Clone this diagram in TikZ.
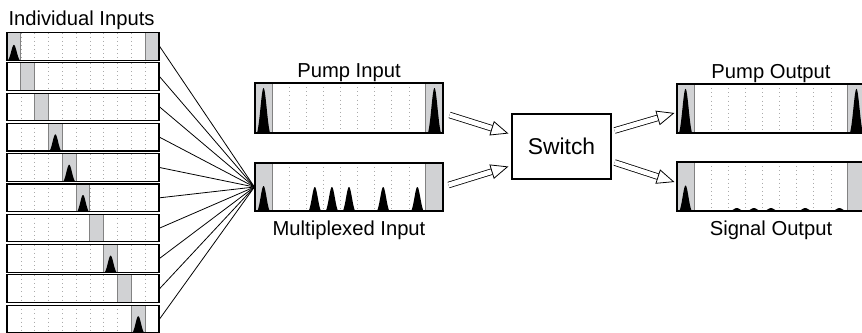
\documentclass[tikz,border=0pt]{standalone}
\usepackage{fontspec}
\setmainfont{Liberation Sans}
\usetikzlibrary{arrows.meta,positioning,calc}
\definecolor{SlotGray}{RGB}{209,210,212}
\definecolor{SlotEdge}{RGB}{130,130,130}
\definecolor{GridGray}{RGB}{170,170,170}

\def\px{0.02cm}
% one time frame: name, left, top, width, height, gray slots, pulses (slot/height/halfwidth)
\newcommand{\pulseframe}[7]{%
  \begin{scope}[shift={(#2,#3)}]
    \fill[white] (0,0) rectangle (#4,#5);
    \foreach \k in {1,...,10}
      \draw[gridline] ({\k*#4/11},0) -- ({\k*#4/11},#5);
    \foreach \s in {#6}
      \draw[slot] ({\s*#4/11},0) rectangle ({(\s+1)*#4/11},#5);
    \foreach \s/\a/\b in {#7}
      \fill[pulse] plot[variable=\t, domain=-1:1, samples=41]
        ({(\s+0.5)*#4/11+\b*\t*#4/11},
         {#5*(1-\a*(exp(-2.2*\t*\t)-exp(-2.2))/(1-exp(-2.2)))}) -- cycle;
    \node[framebox, minimum width=#4*\px, minimum height=#5*\px] (#1) at (#4/2,#5/2) {};
  \end{scope}}

\begin{document}
\begin{tikzpicture}[
    x=\px, y=-\px,
    framebox/.style={draw, line width=0.65pt, inner sep=0pt},
    slot/.style={fill=SlotGray, draw=SlotEdge, line width=0.5pt},
    gridline/.style={GridGray, dotted, line width=0.35pt},
    pulse/.style={fill=black},
    fan/.style={line width=0.45pt},
    hollow/.style={double distance=2.8pt, line width=0.45pt,
                   -{Triangle[open, length=10pt, width=8.5pt, fill=white]}},
    lbl/.style={font=\fontsize{11.5}{13}\selectfont, inner sep=1pt},
    switchbox/.style={draw, line width=0.7pt, minimum width=1.98cm, minimum height=1.3cm,
                      font=\fontsize{13}{15}\selectfont}
]
    \useasboundingbox (0,0) rectangle (862,332);

    % individual inputs
    \pulseframe{r0}{7}{32.5}{152}{27.6}{0,10}{0/0.55/0.42}
    \pulseframe{r1}{7}{62.8}{152}{27.6}{1}{0/0/0}
    \pulseframe{r2}{7}{93.1}{152}{27.6}{2}{0/0/0}
    \pulseframe{r3}{7}{123.4}{152}{27.6}{3}{3/0.6/0.42}
    \pulseframe{r4}{7}{153.7}{152}{27.6}{4}{4/0.6/0.42}
    \pulseframe{r5}{7}{184}{152}{27.6}{5}{5/0.6/0.42}
    \pulseframe{r6}{7}{214.3}{152}{27.6}{6}{0/0/0}
    \pulseframe{r7}{7}{244.6}{152}{27.6}{7}{7/0.6/0.42}
    \pulseframe{r8}{7}{274.9}{152}{27.6}{8}{0/0/0}
    \pulseframe{r9}{7}{305.2}{152}{27.6}{9}{9/0.6/0.42}
    \node[lbl, anchor=south west] at (r0.north west) {Individual Inputs};

    % pump and multiplexed input
    \pulseframe{pin}{255}{83}{188}{50}{0,10}{0/0.9/0.38, 10/0.9/0.38}
    \pulseframe{mux}{255}{163}{188}{48}{0,10}{0/0.52/0.36, 3/0.5/0.36, 4/0.5/0.36,
        5/0.5/0.36, 7/0.5/0.36, 9/0.5/0.36}
    \node[lbl, above=-1pt of pin] (pinlbl) {Pump Input};
    \node[lbl, below=4pt of mux] (muxlbl) {Multiplexed Input};

    \foreach \k in {0,...,9}
      \draw[fan] (r\k.east) -- (mux.west);

    % switch
    \node[switchbox] (sw) at (561.5,146.5) {Switch};

    % outputs
    \pulseframe{pout}{677}{84}{188}{49}{0,10}{0/0.9/0.38, 10/0.9/0.38}
    \pulseframe{sout}{677}{162}{188}{49}{0,10}{0/0.52/0.36, 3/0.06/0.4, 4/0.06/0.4,
        5/0.06/0.4, 7/0.06/0.4, 9/0.06/0.4}
    \node[lbl, above=-1pt of pout] (poutlbl) {Pump Output};
    \node[lbl, below=4pt of sout] (soutlbl) {Signal Output};

    \draw[hollow] ($(pin.east)+(6,7)$) -- ($(sw.west)+(-3,-13)$);
    \draw[hollow] ($(mux.east)+(5,-2)$) -- ($(sw.west)+(-3,20)$);
    \draw[hollow] ($(sw.east)+(3,-16)$) -- ($(pout.west)+(-2,4.5)$);
    \draw[hollow] ($(sw.east)+(3,16)$) -- ($(sout.west)+(-2,-4.5)$);
\end{tikzpicture}
\end{document}
